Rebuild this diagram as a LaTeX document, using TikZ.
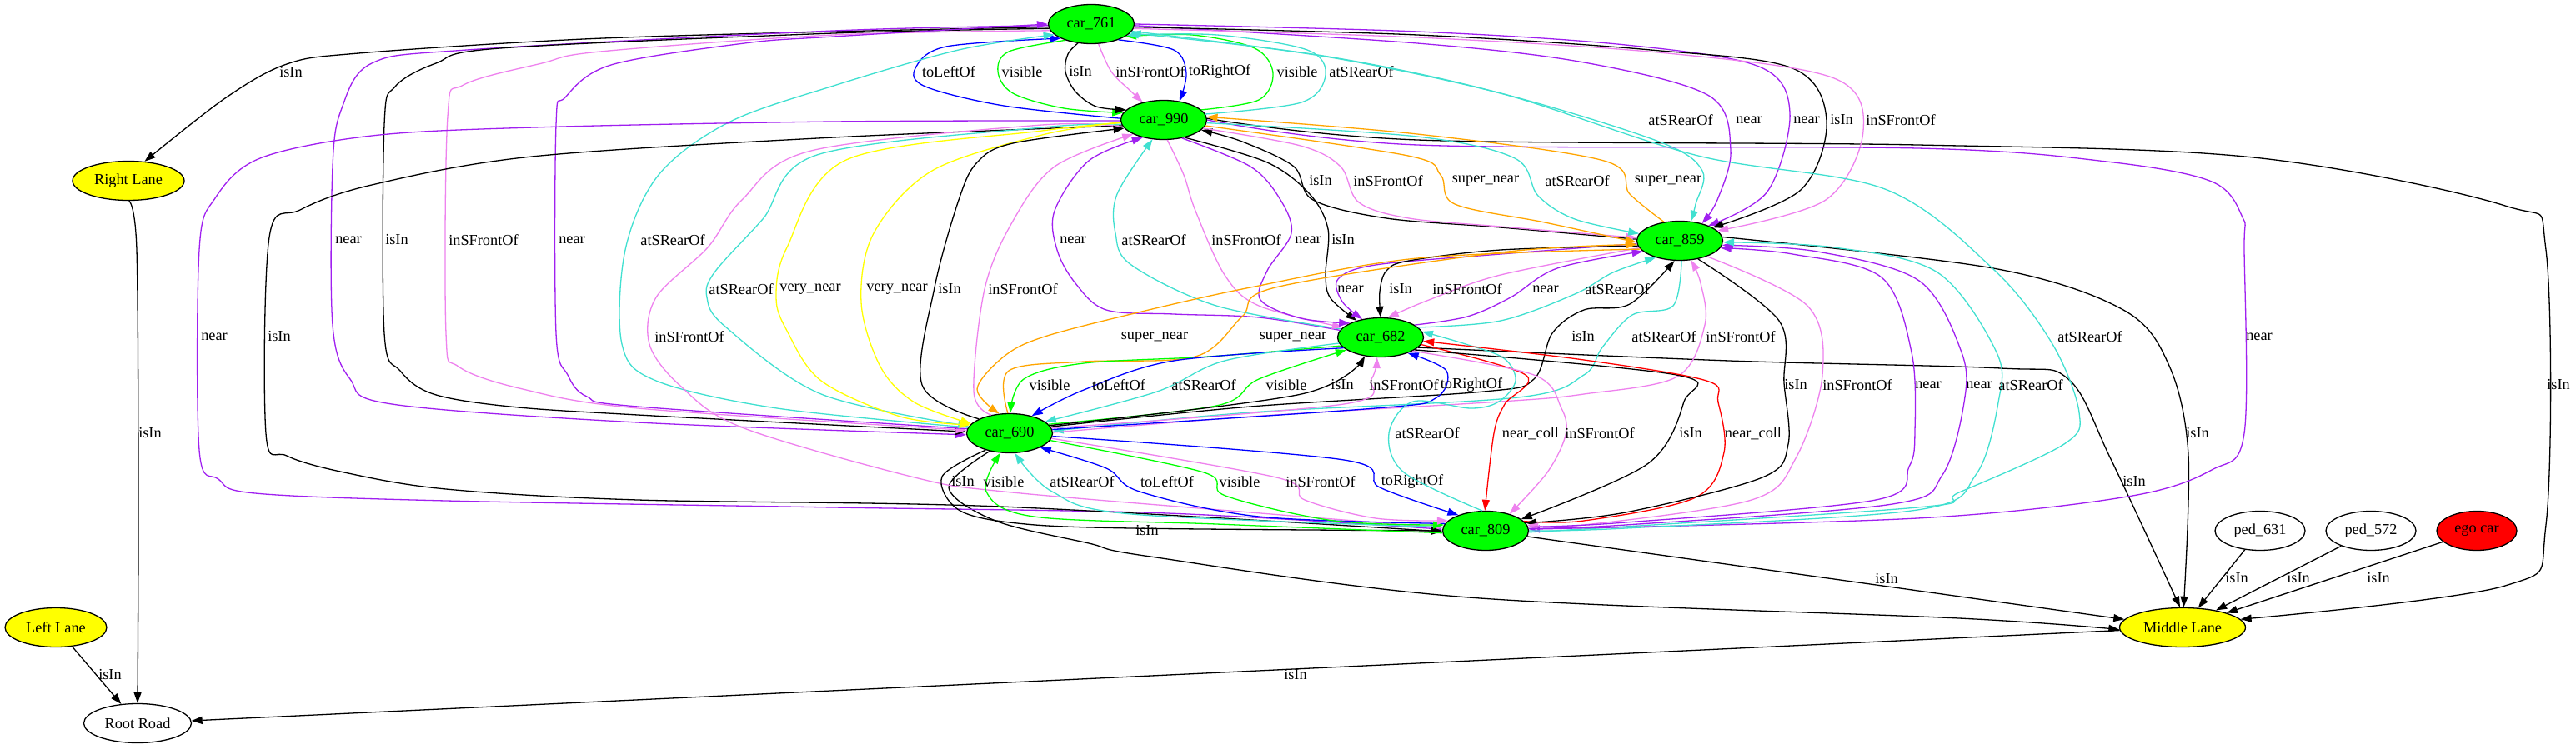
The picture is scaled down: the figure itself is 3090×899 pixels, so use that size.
\documentclass[tikz,border=0pt]{standalone}
\usepackage{fontspec}
\setmainfont{Liberation Serif}
\usetikzlibrary{shapes.geometric,arrows.meta}
\definecolor{gvpurple}{HTML}{A020F0}
\definecolor{gvviolet}{HTML}{EE82EE}
\definecolor{gvturq}{HTML}{40E0D0}
\definecolor{gvgreen}{HTML}{00FF00}
\definecolor{gvblue}{HTML}{0000FF}
\definecolor{gvyellow}{HTML}{FFFF00}
\definecolor{gvorange}{HTML}{FFA500}
\definecolor{gvred}{HTML}{FF0000}
\tikzset{
  ed/.style={line width=1.3pt,-{Triangle[length=13pt,width=9pt]}},
  lab/.style={font=\fontsize{18.3}{20}\selectfont,inner sep=0pt},
  gnode/.style={ellipse,draw,line width=1.3pt,inner sep=0pt,minimum height=47pt,font=\fontsize{18.3}{20}\selectfont},
  car/.style={gnode,fill=gvgreen,minimum width=103pt},
  lane/.style={gnode,fill=gvyellow},
  plain/.style={gnode,fill=white},
}
\newcommand\edgeE[5]{\draw[ed,#1] plot[smooth,tension=0.55] coordinates {#5};\node[lab] (#2) at (#3) {#4};}
\begin{document}
\begin{tikzpicture}[x=1pt,y=-1pt]
\fill[white] (0,0) rectangle (3090,899);
\path[use as bounding box] (0,0) rectangle (3090,899);
% nodes
\node[car] (c761) at (1309,29) {car\_761};
\node[car] (c990) at (1396,144) {car\_990};
\node[car] (c859) at (2015,289) {car\_859};
\node[car] (c682) at (1656,405) {car\_682};
\node[car] (c690) at (1211,520) {car\_690};
\node[car] (c809) at (1782,637) {car\_809};
\node[lane,minimum width=134pt] (RL) at (154,217) {Right Lane};
\node[lane,minimum width=122pt] (LL) at (67,753) {Left Lane};
\node[plain,minimum width=129pt] (RR) at (165,868) {Root Road};
\node[lane,minimum width=151pt] (ML) at (2618,753) {Middle Lane};
\node[plain,minimum width=108pt] (p631) at (2711,637) {ped\_631};
\node[plain,minimum width=108pt] (p572) at (2844,637) {ped\_572};
\node[gnode,fill=gvred,minimum width=96pt] (ego) at (2971,637) {ego car};
% lanes / road
\edgeE{black}{l1}{349,87}{isIn}{(c761.184) (1000,38) (700,47) (430,64) (344,77) (270,118) (RL.50)}
\edgeE{black}{l2}{180,520}{isIn}{(RL.272) (164,300) (166,600) (RR.90)}
\draw[ed] (LL) -- (RR); \node[lab] (l3) at (132,810) {isIn};
\draw[ed] (ML) -- (RR); \node[lab] (l4) at (1554,810) {isIn};
\draw[ed] (p631) -- (ML); \node[lab] (l5) at (2683,694) {isIn};
\draw[ed] (p572) -- (ML); \node[lab] (l6) at (2757,694) {isIn};
\draw[ed] (ego) -- (ML); \node[lab] (l7) at (2853,694) {isIn};
\draw[ed] (c809) -- (ML); \node[lab] (l8) at (2263,695) {isIn};
\edgeE{black}{l9}{1376,637}{isIn}{(c690.222) (1138,585) (1194,625) (1306,652) (1380,668) (1762,717) (2350,742) (ML.182)}
\edgeE{black}{l10}{2560,578}{isIn}{(c682.345) (2074,433) (2400,442) (2481,455) (2532,551) (ML.97)}
\edgeE{black}{l11}{2636,520}{isIn}{(c859.5) (2391,322) (2547,372) (2602,439) (2625,546) (ML.87)}
\edgeE{black}{l12}{3069,462}{isIn}{(c990.2) (1700,168) (2300,174) (2703,189) (3005,247) (3054,300) (3054,630) (3005,703) (ML.8)}
% 761 - 990
\edgeE{gvblue}{l13}{1138,86}{toLeftOf}{(c990.178) (1204,127) (1110,104) (1098,82) (1135,56) (c761.205)}
\edgeE{gvgreen}{l14}{1226,86}{visible}{(c761.212) (1210,62) (1197,86) (1215,112) (1276,130) (c990.170)}
\edgeE{black}{l15}{1296,86}{isIn}{(c761.235) (1281,65) (1278,86) (1290,110) (1315,128) (c990.165)}
\edgeE{gvviolet}{l16}{1380,86}{inSFrontOf}{(c761.290) (1333,86) (1357,110) (c990.140)}
\edgeE{gvblue}{l17}{1463,86}{toRightOf}{(c761.330) (1408,60) (1423,88) (c990.50)}
\edgeE{gvgreen}{l18}{1556,86}{visible}{(c990.15) (1510,120) (1527,88) (1505,58) (1430,42) (c761.340)}
\edgeE{gvturq}{l19}{1633,86}{atSRearOf}{(c990.8) (1561,123) (1590,90) (1568,60) (1460,42) (c761.343)}
% 761 - 690
\edgeE{gvpurple}{l20}{418,288}{near}{(c761.182) (1000,37) (560,60) (446,76) (410,130) (399,200) (399,390) (420,455) (470,485) (765,507) (c690.182)}
\edgeE{black}{l21}{476,288}{isIn}{(c761.186) (1000,40) (600,58) (523,76) (474,104) (461,150) (461,400) (480,445) (520,473) (612,488) (765,498) (c690.178)}
\edgeE{gvviolet}{l22}{580,288}{inSFrontOf}{(c761.189) (1000,42) (720,62) (650,76) (556,102) (537,140) (535,400) (550,440) (627,467) (765,490) (c690.176)}
\edgeE{gvpurple}{l23}{686,288}{near}{(c690.174) (765,488) (704,476) (681,450) (667,400) (667,150) (678,117) (733,78) (893,52) (1000,44) (c761.180)}
\edgeE{gvturq}{l24}{807,288}{atSRearOf}{(c690.172) (932,490) (787,457) (746,413) (750,300) (790,210) (874,147) (1000,103) (1150,60) (c761.196)}
% 761 - 859
\edgeE{gvturq}{l25}{2016,144}{atSRearOf}{(c761.350) (1590,68) (1800,112) (1990,170) (2042,205) (2034,245) (c859.60)}
\edgeE{gvpurple}{l26}{2098,144}{near}{(c761.358) (1700,52) (1900,75) (2050,115) (2076,180) (2060,240) (c859.38)}
\edgeE{gvpurple}{l27}{2167,144}{near}{(c761.0) (1700,38) (1950,54) (2110,80) (2147,135) (2120,230) (c859.28)}
\edgeE{black}{l28}{2209,144}{isIn}{(c761.356) (1700,42) (1980,60) (2150,82) (2191,145) (2160,228) (c859.22)}
\edgeE{gvviolet}{l29}{2280,144}{inSFrontOf}{(c761.354) (1700,45) (2000,64) (2200,94) (2235,157) (2190,240) (c859.15)}
\edgeE{gvturq}{l30}{2507,404}{atSRearOf}{(c809.358) (2300,609) (2350,591) (2476,533) (2494,495) (2462,413) (2391,323) (2261,227) (2037,187) (1800,112) (1587,67) (c761.347)}
% 990 - 809
\edgeE{gvpurple}{l31}{257,404}{near}{(c990.181) (1000,146) (640,153) (446,163) (312,190) (258,238) (239,300) (239,540) (262,575) (306,592) (535,601) (1000,609) (1400,616) (c809.178)}
\edgeE{black}{l32}{335,404}{isIn}{(c990.188) (1000,165) (638,188) (446,222) (360,252) (323,285) (319,520) (344,547) (413,567) (535,587) (765,600) (1200,608) (c809.181)}
\edgeE{gvviolet}{l33}{827,404}{inSFrontOf}{(c990.190) (1250,150) (973,181) (890,240) (849,297) (787,357) (779,413) (816,463) (890,513) (1097,573) (1204,590) (1500,615) (c809.176)}
\edgeE{gvpurple}{l34}{2710,404}{near}{(c990.0) (1700,174) (2300,178) (2527,194) (2653,218) (2690,261) (2692,300) (2692,520) (2653,564) (2552,596) (2300,622) (c809.2)}
% 990 - 690
\edgeE{gvturq}{l35}{889,347}{atSRearOf}{(c990.186) (1250,153) (980,186) (915,263) (857,327) (848,357) (870,392) (985,473) (c690.170)}
\edgeE{gvyellow}{l36}{972,347}{very\_near}{(c990.184) (1250,157) (1015,192) (944,297) (931,357) (944,397) (985,457) (1080,500) (c690.168)}
\edgeE{gvyellow}{l37}{1076,347}{very\_near}{(c990.183) (1250,162) (1118,205) (1048,280) (1033,363) (1056,440) (1097,483) (c690.166)}
\edgeE{black}{l38}{1139,347}{isIn}{(c690.155) (1106,462) (1121,345) (1150,240) (1172,195) (1215,172) (c990.192)}
\edgeE{gvviolet}{l39}{1227,347}{inSFrontOf}{(c690.135) (1168,470) (1181,347) (1214,267) (1265,200) (c990.205)}
% 990 - 682
\edgeE{gvpurple}{l40}{1287,288}{near}{(c682.170) (1510,381) (1408,377) (1327,372) (1290,340) (1268,300) (1265,253) (1306,193) (c990.220)}
\edgeE{gvturq}{l41}{1384,288}{atSRearOf}{(c682.168) (1459,367) (1357,318) (1338,280) (1340,233) (c990.240)}
\edgeE{gvviolet}{l42}{1495,288}{inSFrontOf}{(c990.280) (1420,210) (1434,253) (1469,330) (1510,367) (c682.165)}
\edgeE{gvpurple}{l43}{1569,288}{near}{(c990.315) (1500,200) (1536,240) (1549,280) (1520,325) (1512,360) (1560,382) (c682.155)}
\edgeE{black}{l44}{1611,288}{isIn}{(c990.320) (1520,195) (1571,233) (1593,275) (1590,330) (1596,358) (c682.145)}
% 990 - 859
\edgeE{black}{l45}{1584,217}{isIn}{(c859.178) (1800,273) (1663,262) (1575,240) (1552,200) (1490,170) (c990.345)}
\edgeE{gvviolet}{l46}{1665,217}{inSFrontOf}{(c990.348) (1560,175) (1608,200) (1630,243) (1690,262) (1800,272) (c859.176)}
\edgeE{gvorange}{l47}{1782,217}{super\_near}{(c990.352) (1689,187) (1728,210) (1745,245) (1853,267) (c859.182)}
\edgeE{gvturq}{l48}{1892,217}{atSRearOf}{(c990.356) (1700,164) (1817,190) (1845,235) (1889,263) (c859.170)}
\edgeE{gvorange}{l49}{2001,217}{super\_near}{(c859.130) (1955,233) (1924,193) (1700,161) (c990.4)}
% 859 - 682
\edgeE{gvpurple}{l50}{1620,347}{near}{(c859.184) (1800,305) (1650,318) (1605,335) (1610,362) (c682.135)}
\edgeE{black}{l51}{1680,347}{isIn}{(c859.187) (1800,300) (1690,313) (1663,325) (1655,350) (c682.90)}
\edgeE{gvviolet}{l52}{1760,347}{inSFrontOf}{(c859.190) (1800,330) (1714,360) (c682.70)}
\edgeE{gvpurple}{l53}{1854,347}{near}{(c682.20) (1760,380) (1812,357) (1868,322) (c859.196)}
\edgeE{gvturq}{l54}{1940,347}{atSRearOf}{(c682.15) (1800,385) (1889,353) (1935,327) (c859.215)}
% 859 - 690
\edgeE{gvorange}{l55}{1385,405}{super\_near}{(c859.192) (1700,310) (1500,345) (1357,377) (1250,405) (1204,428) (1172,467) (c690.118)}
\edgeE{gvorange}{l56}{1551,405}{super\_near}{(c690.95) (1210,445) (1300,434) (1434,428) (1490,380) (1530,345) (1800,303) (c859.185)}
\edgeE{black}{l57}{1899,404}{isIn}{(c690.9) (1500,488) (1780,470) (1840,455) (1862,400) (1900,372) (1955,365) (c859.255)}
\edgeE{gvturq}{l58}{1996,404}{atSRearOf}{(c859.275) (2007,367) (1958,378) (1922,417) (1900,450) (1821,477) (1500,495) (c690.3)}
\edgeE{gvviolet}{l59}{2088,404}{inSFrontOf}{(c690.1) (1500,500) (1800,482) (1900,473) (2012,452) (2045,390) (2040,340) (c859.300)}
% 682 - 690
\edgeE{gvgreen}{l60}{1259,462}{visible}{(c682.192) (1450,428) (1300,436) (1228,455) (c690.88)}
\edgeE{gvblue}{l61}{1342,462}{toLeftOf}{(c682.196) (1408,433) (1300,468) (c690.38)}
\edgeE{gvturq}{l62}{1444,462}{atSRearOf}{(c682.188) (1469,433) (1388,470) (c690.18)}
\edgeE{gvgreen}{l63}{1543,462}{visible}{(c690.13) (1459,487) (1510,455) (c682.200)}
\edgeE{black}{l64}{1610,462}{isIn}{(c690.11) (1561,473) (c682.230)}
\edgeE{gvviolet}{l65}{1684,462}{inSFrontOf}{(c690.7) (1612,485) (1645,455) (c682.260)}
\edgeE{gvblue}{l66}{1765,462}{toRightOf}{(c690.5) (1650,490) (1722,478) (1735,445) (c682.330)}
% 690 - 809
\edgeE{black}{l67}{1155,578}{isIn}{(c690.215) (1130,572) (1150,612) (1220,628) (1357,634) (c809.180)}
\edgeE{gvgreen}{l68}{1204,578}{visible}{(c809.183) (1459,629) (1240,620) (1183,590) (c690.245)}
\edgeE{gvturq}{l69}{1298,578}{atSRearOf}{(c809.175) (1357,617) (1262,590) (c690.285)}
\edgeE{gvblue}{l70}{1400,578}{toLeftOf}{(c809.170) (1510,620) (1367,590) (1327,562) (c690.335)}
\edgeE{gvgreen}{l71}{1487,578}{visible}{(c690.350) (1444,567) (1470,595) (1600,625) (c809.172)}
\edgeE{gvviolet}{l72}{1584,578}{inSFrontOf}{(c690.353) (1531,573) (1565,600) (1650,622) (c809.165)}
\edgeE{gvblue}{l73}{1694,578}{toRightOf}{(c690.356) (1612,552) (1655,585) (c809.150)}
% 682 - 809
\edgeE{gvturq}{l74}{1712,520}{atSRearOf}{(c809.100) (1684,567) (1666,520) (1695,482) (1764,490) (1798,482) (1818,457) (1804,430) (1758,413) (c682.8)}
\edgeE{gvred}{l75}{1836,520}{near\_coll}{(c682.350) (1830,450) (1805,485) (1792,520) (c809.92)}
\edgeE{gvviolet}{l76}{1919,520}{inSFrontOf}{(c682.337) (1840,450) (1873,490) (1878,522) (1856,567) (c809.35)}
\edgeE{black}{l77}{2028,520}{isIn}{(c682.340) (2011,450) (2020,482) (1976,557) (c809.18)}
\edgeE{gvred}{l78}{2103,520}{near\_coll}{(c809.14) (1900,625) (2034,597) (2068,543) (2061,483) (2047,457) (1900,432) (c682.355)}
% 859 - 809
\edgeE{black}{l79}{2154,462}{isIn}{(c859.315) (2134,385) (2140,460) (2145,533) (2114,573) (1950,615) (c809.11)}
\edgeE{gvviolet}{l80}{2228,462}{inSFrontOf}{(c859.330) (2168,367) (2186,450) (2154,550) (2101,600) (1900,630) (c809.8)}
\edgeE{gvpurple}{l81}{2313,462}{near}{(c809.5) (1950,627) (2250,600) (2290,560) (2297,517) (2293,423) (2257,333) (2150,305) (c859.350)}
\edgeE{gvpurple}{l82}{2374,462}{near}{(c809.3) (1950,630) (2270,605) (2330,570) (2356,483) (2353,423) (2302,337) (2180,302) (c859.354)}
\edgeE{gvturq}{l83}{2436,462}{atSRearOf}{(c809.0) (1950,634) (2300,612) (2370,570) (2397,483) (2395,423) (2324,327) (2200,297) (c859.358)}
\end{tikzpicture}
\end{document}
